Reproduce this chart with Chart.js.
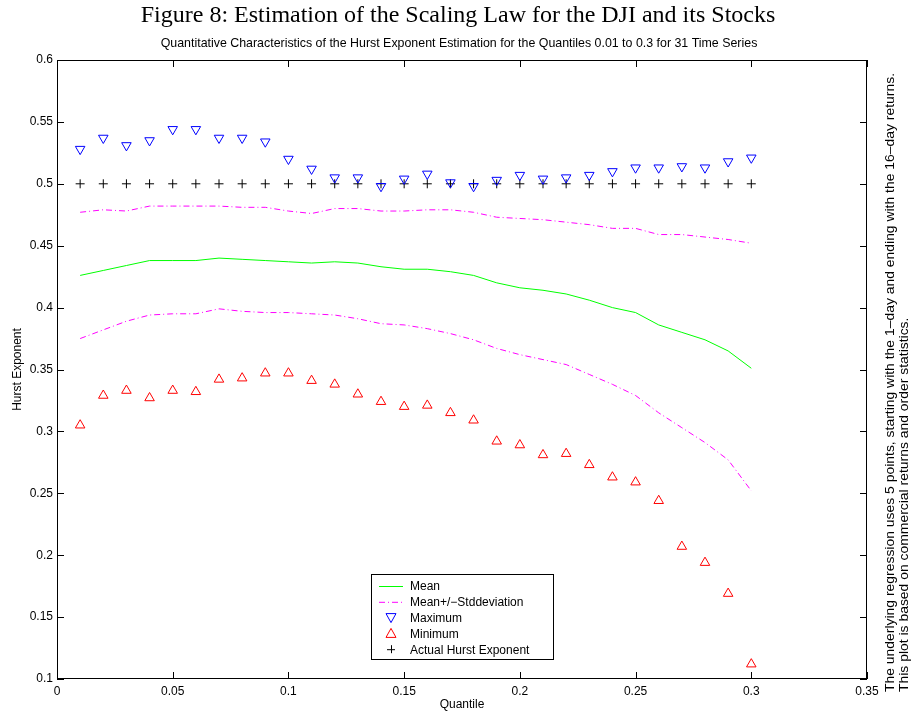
<!DOCTYPE html>
<html>
<head>
<meta charset="utf-8">
<script src="https://cdn.jsdelivr.net/npm/chart.js@4.4.1/dist/chart.umd.min.js"></script>
<style>
  html, body { margin: 0; padding: 0; background: #fff; }
  #wrap { width: 911px; height: 715px; position: relative; }
</style>
</head>
<body>
<div id="wrap"><canvas id="hurstChart" width="911" height="715"></canvas></div>
<script>
// Quantiles on the x axis
const quantiles = [0.01, 0.02, 0.03, 0.04, 0.05, 0.06, 0.07, 0.08, 0.09, 0.10,
                   0.11, 0.12, 0.13, 0.14, 0.15, 0.16, 0.17, 0.18, 0.19, 0.20,
                   0.21, 0.22, 0.23, 0.24, 0.25, 0.26, 0.27, 0.28, 0.29, 0.30];

const meanValues = [0.426, 0.430, 0.434, 0.438, 0.438, 0.438, 0.440, 0.439, 0.438, 0.437,
                    0.436, 0.437, 0.436, 0.433, 0.431, 0.431, 0.429, 0.426, 0.420, 0.416,
                    0.414, 0.411, 0.406, 0.400, 0.396, 0.386, 0.380, 0.374, 0.365, 0.351];

const upperStd = [0.477, 0.479, 0.478, 0.482, 0.482, 0.482, 0.482, 0.481, 0.481, 0.478,
                  0.476, 0.480, 0.480, 0.478, 0.478, 0.479, 0.479, 0.477, 0.473, 0.472,
                  0.471, 0.469, 0.467, 0.464, 0.464, 0.459, 0.459, 0.457, 0.455, 0.452];

const lowerStd = [0.375, 0.382, 0.389, 0.394, 0.395, 0.395, 0.399, 0.397, 0.396, 0.396,
                  0.395, 0.394, 0.391, 0.387, 0.386, 0.383, 0.379, 0.374, 0.367, 0.362,
                  0.358, 0.354, 0.346, 0.338, 0.329, 0.315, 0.303, 0.291, 0.277, 0.252];

const maxValues = [0.528, 0.537, 0.531, 0.535, 0.544, 0.544, 0.537, 0.537, 0.534, 0.520,
                   0.512, 0.505, 0.505, 0.498, 0.504, 0.508, 0.501, 0.498, 0.503, 0.507,
                   0.504, 0.505, 0.507, 0.510, 0.513, 0.513, 0.514, 0.513, 0.518, 0.521];

const minValues = [0.305, 0.329, 0.333, 0.327, 0.333, 0.332, 0.342, 0.343, 0.347, 0.347,
                   0.341, 0.338, 0.330, 0.324, 0.320, 0.321, 0.315, 0.309, 0.292, 0.289,
                   0.281, 0.282, 0.273, 0.263, 0.259, 0.244, 0.207, 0.194, 0.169, 0.112];

const actualHurst = [0.5, 0.5, 0.5, 0.5, 0.5, 0.5, 0.5, 0.5, 0.5, 0.5,
                     0.5, 0.5, 0.5, 0.5, 0.5, 0.5, 0.5, 0.5, 0.5, 0.5,
                     0.5, 0.5, 0.5, 0.5, 0.5, 0.5, 0.5, 0.5, 0.5, 0.5];

const xTickLabels = ["0", "0.05", "0.1", "0.15", "0.2", "0.25", "0.3", "0.35"];
const yTickLabels = ["0.1", "0.15", "0.2", "0.25", "0.3", "0.35", "0.4", "0.45", "0.5", "0.55", "0.6"];

const figureTitle = "Figure 8: Estimation of the Scaling Law for the DJI and its Stocks";
const subTitle = "Quantitative Characteristics of the Hurst Exponent Estimation for the Quantiles 0.01 to 0.3 for 31 Time Series";
const xTitle = "Quantile";
const yTitle = "Hurst Exponent";
const sideNotes = [
    "The underlying regression uses 5 points, starting with the 1\u2013day and ending with the 16\u2013day returns.",
    "This plot is based on commercial returns and order statistics."
];

const SANS = "Helvetica, Arial, 'Liberation Sans', sans-serif";

function toPoints(ys) {
    return quantiles.map((q, i) => ({ x: q, y: ys[i] }));
}

const dashDot = [6, 3, 1, 3];

// Legend entries (the lower std line shares the magenta entry)
const legendItems = [
    { label: "Mean", kind: "line", color: "#00ff00" },
    { label: "Mean+/\u2212Stddeviation", kind: "dash", color: "#ff00ff" },
    { label: "Maximum", kind: "down", color: "#0000ff" },
    { label: "Minimum", kind: "up", color: "#ff0000" },
    { label: "Actual Hurst Exponent", kind: "plus", color: "#000000" }
];

// Inward ticks on all four sides, box frame, texts and legend
const decorPlugin = {
    id: "decor",
    afterDraw(chart) {
        const ctx = chart.ctx;
        const a = chart.chartArea;
        const xs = chart.scales.x;
        const ys = chart.scales.y;
        const tick = 7;

        ctx.save();
        ctx.strokeStyle = "#000";
        ctx.lineWidth = 1;
        ctx.strokeRect(a.left + 0.5, a.top + 0.5, a.right - a.left - 1, a.bottom - a.top - 1);

        ctx.beginPath();
        xs.ticks.forEach(t => {
            const px = Math.round(xs.getPixelForValue(t.value)) + 0.5;
            ctx.moveTo(px, a.bottom); ctx.lineTo(px, a.bottom - tick);
            ctx.moveTo(px, a.top); ctx.lineTo(px, a.top + tick);
        });
        ys.ticks.forEach(t => {
            const py = Math.round(ys.getPixelForValue(t.value)) + 0.5;
            ctx.moveTo(a.left, py); ctx.lineTo(a.left + tick, py);
            ctx.moveTo(a.right, py); ctx.lineTo(a.right - tick, py);
        });
        ctx.stroke();

        // titles
        ctx.fillStyle = "#000";
        ctx.textAlign = "center";
        ctx.textBaseline = "middle";
        ctx.font = "24px 'Liberation Serif', 'DejaVu Serif', serif";
        ctx.fillText(figureTitle, 458, 16);
        ctx.font = "12.4px " + SANS;
        ctx.fillText(subTitle, 459, 44);

        ctx.font = "12px " + SANS;
        ctx.fillText(xTitle, (a.left + a.right) / 2, 705);

        ctx.save();
        ctx.translate(18, (a.top + a.bottom) / 2);
        ctx.rotate(-Math.PI / 2);
        ctx.fillText(yTitle, 0, 0);
        ctx.restore();

        // side notes, both lines start at the bottom, slightly stretched like the original
        ctx.save();
        ctx.font = "12px " + SANS;
        ctx.textAlign = "left";
        ctx.translate(891, 692);
        ctx.rotate(-Math.PI / 2);
        ctx.scale(1.16, 1);
        ctx.fillText(sideNotes[0], 0, 0);
        ctx.fillText(sideNotes[1], 0, 13.5);
        ctx.restore();

        // legend box
        const lx = 371, ly = 574, lw = 182, lh = 85;
        ctx.fillStyle = "#fff";
        ctx.fillRect(lx, ly, lw, lh);
        ctx.strokeStyle = "#000";
        ctx.strokeRect(lx + 0.5, ly + 0.5, lw, lh);
        ctx.textAlign = "left";
        ctx.font = "12px " + SANS;
        legendItems.forEach((item, i) => {
            const y = ly + 12 + i * 15.8;
            const cx = 391;
            ctx.strokeStyle = item.color;
            ctx.lineWidth = 1;
            ctx.beginPath();
            if (item.kind === "line" || item.kind === "dash") {
                ctx.setLineDash(item.kind === "dash" ? dashDot : []);
                ctx.moveTo(379, y + 0.5); ctx.lineTo(403, y + 0.5);
                ctx.stroke();
                ctx.setLineDash([]);
            } else if (item.kind === "down") {
                ctx.moveTo(cx - 5, y - 4); ctx.lineTo(cx + 5, y - 4); ctx.lineTo(cx, y + 5); ctx.closePath();
                ctx.stroke();
            } else if (item.kind === "up") {
                ctx.moveTo(cx - 5, y + 4); ctx.lineTo(cx + 5, y + 4); ctx.lineTo(cx, y - 5); ctx.closePath();
                ctx.stroke();
            } else {
                ctx.moveTo(cx - 4, y + 0.5); ctx.lineTo(cx + 4, y + 0.5);
                ctx.moveTo(cx + 0.5, y - 4); ctx.lineTo(cx + 0.5, y + 4);
                ctx.stroke();
            }
            ctx.fillStyle = "#000";
            ctx.fillText(item.label, 410, y + 1);
        });
        ctx.restore();
    }
};

const ctx = document.getElementById("hurstChart").getContext("2d");

new Chart(ctx, {
    type: "scatter",
    data: {
        datasets: [
            {
                label: "Mean",
                data: toPoints(meanValues),
                showLine: true,
                borderColor: "#00ff00",
                borderWidth: 1,
                pointRadius: 0,
                fill: false
            },
            {
                label: "Mean+/-Stddeviation",
                data: toPoints(upperStd),
                showLine: true,
                borderColor: "#ff00ff",
                borderWidth: 1,
                borderDash: dashDot,
                pointRadius: 0,
                fill: false
            },
            {
                label: "Mean-Stddeviation",
                data: toPoints(lowerStd),
                showLine: true,
                borderColor: "#ff00ff",
                borderWidth: 1,
                borderDash: dashDot,
                pointRadius: 0,
                fill: false
            },
            {
                label: "Maximum",
                data: toPoints(maxValues),
                showLine: false,
                pointStyle: "triangle",
                rotation: 180,
                pointRadius: 5.5,
                pointBorderWidth: 1,
                borderColor: "#0000ff",
                backgroundColor: "rgba(0,0,0,0)"
            },
            {
                label: "Minimum",
                data: toPoints(minValues),
                showLine: false,
                pointStyle: "triangle",
                pointRadius: 5.5,
                pointBorderWidth: 1,
                borderColor: "#ff0000",
                backgroundColor: "rgba(0,0,0,0)"
            },
            {
                label: "Actual Hurst Exponent",
                data: toPoints(actualHurst),
                showLine: false,
                pointStyle: "cross",
                pointRadius: 4.5,
                pointBorderWidth: 1,
                borderColor: "#000000",
                backgroundColor: "#000000"
            }
        ]
    },
    options: {
        responsive: false,
        animation: false,
        events: [],
        layout: {
            padding: { left: 0, top: 60, right: 44, bottom: 0 }
        },
        scales: {
            x: {
                type: "linear",
                min: 0,
                max: 0.35,
                afterBuildTicks: scale => {
                    scale.ticks = xTickLabels.map(l => ({ value: parseFloat(l) }));
                },
                afterFit: scale => { scale.height = 36; },
                grid: { display: false, drawTicks: false },
                border: { display: false },
                ticks: {
                    padding: 5,
                    color: "#000",
                    font: { family: SANS, size: 12 },
                    maxRotation: 0,
                    autoSkip: false,
                    callback: (value, index) => xTickLabels[index]
                }
            },
            y: {
                type: "linear",
                min: 0.1,
                max: 0.6,
                afterBuildTicks: scale => {
                    scale.ticks = yTickLabels.map(l => ({ value: parseFloat(l) }));
                },
                afterFit: scale => { scale.width = 57; },
                grid: { display: false, drawTicks: false },
                border: { display: false },
                ticks: {
                    padding: 4,
                    color: "#000",
                    font: { family: SANS, size: 12 },
                    autoSkip: false,
                    callback: (value, index) => yTickLabels[index]
                }
            }
        },
        plugins: {
            legend: { display: false },
            title: { display: false },
            tooltip: { enabled: false }
        }
    },
    plugins: [decorPlugin]
});
</script>
</body>
</html>
